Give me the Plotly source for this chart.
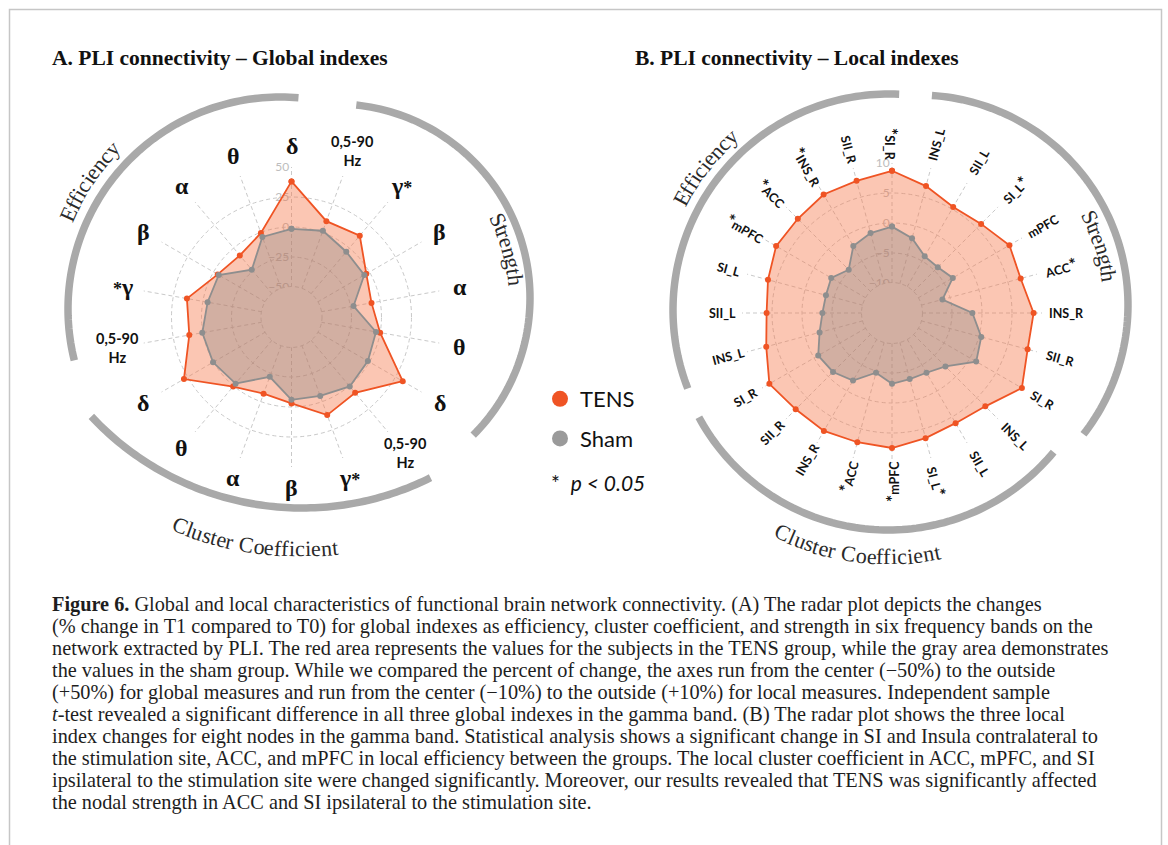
import numpy as np
import plotly.graph_objects as go

W, H = 1168, 845

# ---------------- Panel A: global indexes (% change T1 vs T0) ----------------
bands = ["δ", "θ", "α", "β", "γ", "0,5-90 Hz"]
tens_eff = [38, -0.5, -8, -4, 13.5, 11.5]
tens_str = [32, 0, -7.3, -3, 13.5, 10]
tens_clu = [28.5, 0.7, -7, -3, 12, 7.5]
sham_eff = [-1.5, -4, -23.5, -5, -4, 0.5]
sham_str = [-1.5, -3.5, -22.5, -5, -4, 1.5]
sham_clu = [0.5, -2.5, -22, -6, -5, 0.5]
sig_global = {"Efficiency": ["γ"], "Strength": ["γ"], "Cluster": ["γ"]}

# ---------------- Panel B: local indexes, gamma band ----------------
nodes = ["SI_R", "SII_R", "INS_R", "ACC", "mPFC", "SI_L", "SII_L", "INS_L"]
tens_loc_eff = [8.7, 7.8, 7.8, 7.2, 7.3, 6.4, 5.9, 6.7]
tens_loc_str = [10.0, 8.4, 8.6, 7.2, 7.6, 6.0, 5.4, 6.9]
tens_loc_clu = [8.6, 7.7, 7.7, 7.3, 7.5, 6.6, 6.2, 7.0]
sham_loc_eff = [-0.6, -1.2, -2.1, -4.8, -3.3, -3.6, -3.4, -2.5]
sham_loc_str = [1.2, 0.4, -1.6, -6.3, -3.3, -4.2, -4.1, -2.1]
sham_loc_clu = [-0.8, -1.1, -2.0, -4.7, -3.2, -3.6, -3.5, -2.4]
sig_local = {"Efficiency": ["SI_R", "INS_R", "ACC", "mPFC"],
             "Strength": ["SI_L", "ACC"],
             "Cluster": ["SI_L", "mPFC", "ACC"]}

TENS_LINE = "#EF5424"
SHAM_LINE = "#8E8E8E"
TENS_FILL = (245, 120, 75, 0.42)
SHAM_FILL = (128, 128, 128, 0.33)
GRID_RGB = (201, 201, 201)
GRID = "rgb(201,201,201)"
ARC = "#a9a9a9"
SERIF = "Liberation Serif"
SANS = "Lato"


def rgba(c):
    return "rgba(%d,%d,%d,%.2f)" % c


def over(base, c):
    a = c[3]
    return tuple(base[i] * (1 - a) + c[i] * a for i in range(3))


def rgb(t):
    return "rgb(%d,%d,%d)" % tuple(round(v) for v in t)


# colour of the area covered by both fills, and of the grid seen through them
CORE = rgb(over(over((255, 255, 255), TENS_FILL), SHAM_FILL))
CORE_GRID = rgb(over(over(GRID_RGB, TENS_FILL), SHAM_FILL))


def ring(labels, eff, stren, clu):
    """Spoke order clockwise from 12 o'clock: efficiency at the top, then
    strength and cluster coefficient, then the rest of efficiency."""
    n = len(labels)
    order = [("Efficiency", 0)]
    order += [("Strength", i) for i in range(n - 1, -1, -1)]
    order += [("Cluster", i) for i in range(n - 1, -1, -1)]
    order += [("Efficiency", i) for i in range(n - 1, 0, -1)]
    table = {"Efficiency": eff, "Strength": stren, "Cluster": clu}
    return order, [table[m][i] for m, i in order]


panels = [
    dict(key="polar", cx=291.5, cy=317, R=150, rng=[-50, 50],
         ticks=[-50, -25, 0, 25, 50], labels=bands,
         tens=(tens_eff, tens_str, tens_clu), sham=(sham_eff, sham_str, sham_clu),
         sig=sig_global, kind="global"),
    dict(key="polar2", cx=892, cy=313, R=150, rng=[-10, 10],
         ticks=[-10, -5, 0, 5, 10], labels=nodes,
         tens=(tens_loc_eff, tens_loc_str, tens_loc_clu),
         sham=(sham_loc_eff, sham_loc_str, sham_loc_clu),
         sig=sig_local, kind="local"),
]

HOLE = 0.2


def P(px, py):
    return px / W, 1 - py / H


fig = go.Figure()
layout_polars = {}
annotations = []
shapes = []

for p in panels:
    order, tv = ring(p["labels"], *p["tens"])
    _, sv = ring(p["labels"], *p["sham"])
    step = 360 / len(order)
    theta = [i * step for i in range(len(order))]
    for vals, line, fillc in ((tv, TENS_LINE, TENS_FILL), (sv, SHAM_LINE, SHAM_FILL)):
        fig.add_trace(go.Scatterpolar(
            r=vals + vals[:1], theta=theta + theta[:1], subplot=p["key"],
            mode="lines+markers", fill="toself", fillcolor=rgba(fillc),
            line=dict(color=line, width=1.8), marker=dict(size=6, color=line),
            showlegend=False, hoverinfo="skip"))

    cx, cy, R = p["cx"], p["cy"], p["R"]
    layout_polars[p["key"]] = dict(
        domain=dict(x=[(cx - R) / W, (cx + R) / W], y=[1 - (cy + R) / H, 1 - (cy - R) / H]),
        hole=HOLE, bgcolor="rgba(0,0,0,0)", gridshape="circular",
        radialaxis=dict(range=p["ticks"][::4], tickvals=p["ticks"], angle=90,
                        side="counterclockwise", tickangle=90, showline=False, ticks="",
                        gridcolor=GRID, griddash="4px,3px", gridwidth=1, layer="below traces",
                        tickfont=dict(family=SANS, size=12, color="#bdbdbd")),
        angularaxis=dict(rotation=90, direction="clockwise", tickvals=theta,
                         showticklabels=False, ticks="", showline=False, gridcolor=GRID,
                         griddash="4px,3px", gridwidth=1, layer="below traces"),
    )

    # centre disc filling the hole, with the innermost grid ring on its edge
    hr = HOLE * R + 0.5
    x0, y0 = P(cx - hr, cy + hr)
    x1, y1 = P(cx + hr, cy - hr)
    shapes.append(dict(type="circle", xref="paper", yref="paper", x0=x0, y0=y0, x1=x1, y1=y1,
                       fillcolor=CORE, line=dict(width=1, color=CORE_GRID, dash="4px,3px"),
                       layer="above"))

    # spoke labels
    for k, (metric, idx) in enumerate(order):
        a = (90 - k * step + 180) % 360 - 180
        ar = np.deg2rad(a)
        name = p["labels"][idx]
        starred = name in p["sig"][metric]
        right_side = np.cos(ar) > 1e-6
        if p["kind"] == "global":
            if name.startswith("0,5"):
                txt, rad = "<b>0,5-90<br>Hz</b>", 177
                font = dict(family=SANS, size=14.5, color="#111")
            else:
                star = "<span style='font-size:18px'>*</span>"
                body = name
                if starred:
                    body = body + star if right_side else star + body
                txt, rad = "<b>" + body + "</b>", 171
                font = dict(family=SERIF, size=24, color="#111")
            rot = 0
        else:
            star = "<span style='font-size:17px'>*</span>"
            body = name
            if starred:
                body = body + star if right_side else star + body
            txt = "<b>" + body + "</b>"
            rad = 174 if right_side else 169
            font = dict(family=SANS, size=12.5, color="#111")
            if right_side:
                rot = -a
            else:
                rot = ((-(a + 180) + 180) % 360) - 180
        px, py = cx + rad * np.cos(ar), cy - rad * np.sin(ar)
        x, y = P(px, py)
        annotations.append(dict(x=x, y=y, xref="paper", yref="paper", text=txt, showarrow=False,
                                xanchor="center", yanchor="middle", textangle=rot, font=font))

# ---------------- metric arcs and their curved names ----------------
TIMES_W = {"C": .667, "E": .611, "S": .556, "a": .444, "c": .444, "e": .444, "f": .333,
           "g": .5, "h": .5, "i": .278, "l": .278, "n": .5, "o": .5, "r": .333,
           "s": .389, "t": .278, "u": .5, "y": .5, " ": .25}

arcs = [
    # name, arc centre x/y, radius, from/to (deg), text radius, text mid-angle, reading
    ("Efficiency", 280, 309, 212, 85, 194, 232, 146.3, "cw"),
    ("Strength", 336, 298, 194, 84, -45, 180, 15.9, "cw"),
    ("Cluster Coefficient", 302, 220, 288, -137, -63.5, 329, -98.4, "ccw"),
    ("Efficiency", 889, 310, 216, 87.3, 201.3, 235, 142.2, "cw"),
    ("Strength", 918, 305, 210, 86.2, -38, 193, 18, "cw"),
    ("Cluster Coefficient", 888, 315, 215, -151.6, -39.6, 242, -97.6, "ccw"),
]

for name, acx, acy, ar_, a0, a1, tr, tmid, mode in arcs:
    angs = np.deg2rad(np.linspace(a0, a1, 90))
    pts = [P(acx + ar_ * np.cos(t), acy - ar_ * np.sin(t)) for t in angs]
    path = "M " + " L ".join("%.5f,%.5f" % q for q in pts)
    shapes.append(dict(type="path", xref="paper", yref="paper", path=path,
                       line=dict(color=ARC, width=7.5), layer="below"))
    size = 22
    widths = [TIMES_W.get(ch, .5) * size for ch in name]
    span = sum(widths) / tr
    pos = 0.0
    for ch, w in zip(name, widths):
        off = (pos + w / 2) / tr
        pos += w
        if ch == " ":
            continue
        if mode == "cw":
            phi = np.deg2rad(tmid) + span / 2 - off
            rot = 90 - np.rad2deg(phi)
        else:
            phi = np.deg2rad(tmid) - span / 2 + off
            rot = -(np.rad2deg(phi) + 90)
        x, y = P(acx + tr * np.cos(phi), acy - tr * np.sin(phi))
        annotations.append(dict(x=x, y=y, xref="paper", yref="paper", text=ch, showarrow=False,
                                xanchor="center", yanchor="middle", textangle=rot,
                                font=dict(family=SERIF, size=size, color="#2a2a2a")))

# ---------------- titles ----------------
for txt, px in (("A. PLI connectivity – Global indexes", 50),
                ("B. PLI connectivity – Local indexes", 633)):
    x, y = P(px, 58)
    annotations.append(dict(x=x, y=y, xref="paper", yref="paper", text="<b>" + txt + "</b>",
                            showarrow=False, xanchor="left", yanchor="middle",
                            font=dict(family=SERIF, size=21.5, color="#111")))

# significance note under the legend
x, y = P(549, 482)
annotations.append(dict(x=x, y=y, xref="paper", yref="paper",
                        text="*  <i>p < 0.05</i>", showarrow=False, xanchor="left",
                        yanchor="middle", font=dict(family=SANS, size=21, color="#111")))

# ---------------- caption ----------------
caption = [
    "<b>Figure 6.</b> Global and local characteristics of functional brain network connectivity. (A) The radar plot depicts the changes",
    "(% change in T1 compared to T0) for global indexes as efficiency, cluster coefficient, and strength in six frequency bands on the",
    "network extracted by PLI. The red area represents the values for the subjects in the TENS group, while the gray area demonstrates",
    "the values in the sham group. While we compared the percent of change, the axes run from the center (−50%) to the outside",
    "(+50%) for global measures and run from the center (−10%) to the outside (+10%) for local measures. Independent sample",
    "<i>t</i>-test revealed a significant difference in all three global indexes in the gamma band. (B) The radar plot shows the three local",
    "index changes for eight nodes in the gamma band. Statistical analysis shows a significant change in SI and Insula contralateral to",
    "the stimulation site, ACC, and mPFC in local efficiency between the groups. The local cluster coefficient in ACC, mPFC, and SI",
    "ipsilateral to the stimulation site were changed significantly. Moreover, our results revealed that TENS was significantly affected",
    "the nodal strength in ACC and SI ipsilateral to the stimulation site.",
]
for i, line in enumerate(caption):
    x, y = P(50, 604 + 22 * i)
    annotations.append(dict(x=x, y=y, xref="paper", yref="paper", text=line, showarrow=False,
                            xanchor="left", yanchor="middle",
                            font=dict(family=SERIF, size=20.3, color="#1e1e1e")))

# page frame
x0, y0 = P(9.5, 9.5)
x1, _ = P(1161.5, 0)
shapes.append(dict(type="rect", xref="paper", yref="paper", x0=x0, y0=y0, x1=x1, y1=-0.05,
                   line=dict(color="#c6c6c6", width=1.5), layer="below"))

# legend entries
for nm, col, grp in (("TENS", TENS_LINE, "g1"), ("Sham", "#9a9a9a", "g2")):
    fig.add_trace(go.Scatterpolar(r=[None], theta=[None], subplot="polar", mode="markers",
                                  marker=dict(size=16, color=col), name=nm,
                                  legendgroup=grp, showlegend=True))

lx, ly = P(540, 378)
fig.update_layout(
    width=W, height=H, margin=dict(l=0, r=0, t=0, b=0),
    paper_bgcolor="white", plot_bgcolor="white",
    showlegend=True,
    legend=dict(x=lx, y=ly, xanchor="left", yanchor="top", bgcolor="rgba(0,0,0,0)",
                font=dict(family=SANS, size=22, color="#111"), tracegroupgap=8,
                itemsizing="trace"),
    annotations=annotations, shapes=shapes,
    **layout_polars,
)

fig.write_html("out.html", config={"displayModeBar": False})
